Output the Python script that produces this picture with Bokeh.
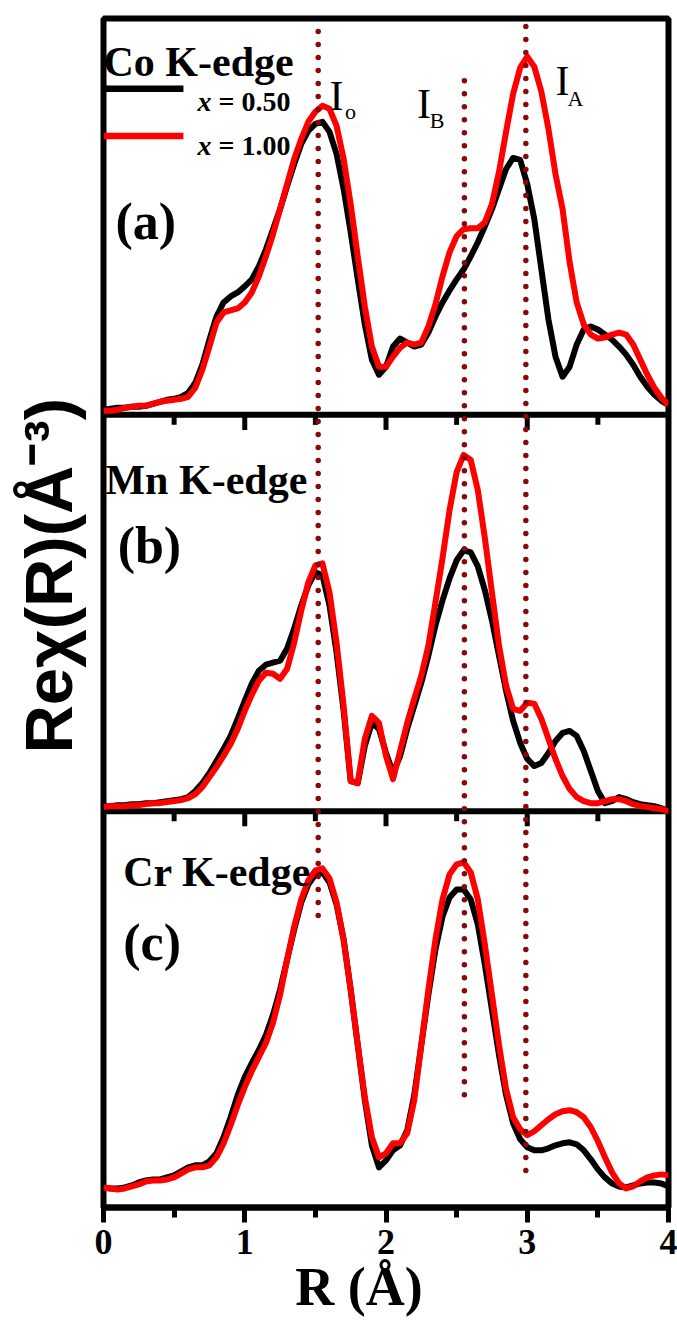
import numpy as np
from bokeh.plotting import figure
from bokeh.models import Range1d, SingleIntervalTicker, FixedTicker, Label
from bokeh.embed import file_html
from bokeh.resources import INLINE

# ---------------- data ----------------
R = np.round(np.arange(81) * 0.05, 2)          # R (Angstrom) sampling, 0..4

# Co K-edge (a)
co_050 = [5, 6, 7, 7, 8, 8, 9, 11, 13, 15,
          16, 18, 22, 32, 50, 75, 98, 112, 118, 122,
          128, 135, 148, 165, 185, 205, 228, 250, 270, 283,
          290, 292, 282, 260, 225, 182, 135, 90, 55, 40,
          48, 68, 76, 72, 68, 70, 82, 98, 112, 124,
          135, 145, 158, 172, 188, 205, 225, 245, 256, 254,
          230, 195, 145, 95, 58, 38, 48, 70, 85, 88,
          85, 80, 75, 68, 60, 50, 38, 28, 20, 14,
          10]
co_100 = [4, 4, 5, 7, 8, 9, 9, 11, 13, 14,
          15, 16, 18, 27, 45, 68, 92, 102, 104, 106,
          112, 122, 138, 158, 180, 205, 230, 255, 275, 292,
          302, 308, 305, 288, 255, 210, 158, 108, 68, 48,
          48, 58, 67, 72, 70, 72, 88, 110, 138, 162,
          178, 185, 186, 186, 192, 210, 242, 282, 320, 346,
          357, 347, 322, 285, 240, 205, 152, 112, 90, 80,
          76, 77, 80, 82, 80, 70, 55, 40, 27, 17,
          10]
# Mn K-edge (b)
mn_050 = [5, 5, 6, 6, 7, 7, 8, 8, 9, 10,
          11, 12, 14, 20, 28, 38, 50, 62, 75, 92,
          110, 127, 140, 146, 148, 150, 162, 182, 205, 225,
          238, 235, 205, 158, 100, 30, 28, 65, 88, 82,
          58, 38, 55, 82, 105, 128, 155, 185, 210, 232,
          250, 260, 258, 244, 220, 190, 155, 120, 90, 68,
          52, 45, 48, 58, 70, 78, 80, 75, 60, 40,
          20, 8, 10, 14, 12, 9, 7, 6, 5, 3,
          0]
mn_100 = [4, 5, 5, 5, 6, 6, 7, 8, 8, 9,
          10, 11, 13, 17, 24, 34, 44, 55, 67, 82,
          100, 116, 130, 138, 137, 132, 142, 168, 200, 228,
          245, 247, 218, 168, 105, 30, 28, 72, 95, 88,
          55, 32, 60, 88, 112, 135, 165, 208, 252, 300,
          338, 355, 350, 320, 272, 218, 165, 125, 102, 100,
          108, 107, 92, 72, 52, 35, 22, 14, 10, 8,
          8, 10, 12, 12, 10, 7, 5, 4, 3, 2,
          0]
# Cr K-edge (c)
cr_050 = [20, 19, 19, 20, 22, 25, 27, 28, 28, 30,
          32, 36, 40, 42, 42, 46, 54, 70, 90, 112,
          130, 144, 157, 172, 192, 217, 247, 277, 304, 322,
          332, 334, 324, 302, 267, 217, 162, 107, 62, 40,
          47, 57, 62, 77, 112, 162, 212, 257, 290, 309,
          317, 317, 307, 282, 242, 197, 152, 112, 84, 68,
          60, 57, 57, 59, 62, 64, 65, 63, 57, 48,
          38, 30, 24, 21, 20, 22, 24, 25, 25, 24,
          21]
cr_100 = [20, 19, 18, 19, 21, 23, 26, 27, 27, 28,
          30, 34, 38, 40, 40, 42, 50, 64, 82, 102,
          120, 136, 150, 164, 184, 212, 247, 280, 307, 326,
          336, 338, 328, 304, 267, 217, 162, 110, 70, 50,
          54, 64, 64, 74, 107, 162, 217, 267, 307, 332,
          342, 344, 334, 307, 262, 212, 162, 118, 90, 78,
          72, 76, 82, 88, 93, 96, 97, 95, 90, 80,
          66, 50, 35, 24, 19, 21, 26, 30, 32, 33,
          32]

panel_names = ["Co K-edge", "Mn K-edge", "Cr K-edge"]
panel_tags = ["(a)", "(b)", "(c)"]
series_labels = ["x", "x"]
series_values = ["= 0.50", "= 1.00"]

# peak markers I_o, I_B, I_A: position and extent (top in panel a units, bottom in panel c units)
peak_R = [1.52, 2.555, 2.99]
peak_top = [382, 333, 387]
peak_bottom = [290, 104, 34]
peak_names = ["o", "B", "A"]

x_ticks = [0, 1, 2, 3, 4]
x_minor = [0.5, 1.5, 2.5, 3.5]

# ---------------- figure ----------------
P = 395.0                      # height of one panel in data units
offsets = [2 * P, P, 0.0]
BLACK = "#000000"
RED = "#ff0000"
DOT = "#870a0a"
SERIF = "Liberation Serif"
SANS = "Liberation Sans"
LW = 6

p = figure(width=677, height=1336, output_backend="svg", toolbar_location=None,
           x_range=Range1d(0, 4), y_range=Range1d(0, 3 * P),
           min_border_left=103, min_border_right=9, min_border_top=18,
           min_border_bottom=129)
p.background_fill_color = "white"
p.border_fill_color = "white"
p.outline_line_color = "black"
p.outline_line_width = 6
p.xgrid.visible = False
p.ygrid.visible = False

# x axis
xa = p.xaxis[0]
xa.ticker = SingleIntervalTicker(interval=1, num_minor_ticks=2)
xa.axis_line_width = 6
xa.major_tick_line_width = 5
xa.minor_tick_line_width = 5
xa.major_tick_out = 15
xa.minor_tick_out = 10
xa.major_tick_in = 0
xa.minor_tick_in = 0
xa.major_label_standoff = 7
xa.major_label_text_font = SERIF
xa.major_label_text_font_style = "bold"
xa.major_label_text_font_size = "36px"
xa.major_label_text_color = "black"
xa.axis_label = "R (Å)" + "\u00a0" * 4
xa.axis_label_text_font = SERIF
xa.axis_label_text_font_style = "bold"
xa.axis_label_text_font_size = "54px"
xa.axis_label_standoff = 0
xa.axis_label_text_color = "black"

# y axis: only the title
ya = p.yaxis[0]
ya.ticker = FixedTicker(ticks=[])
ya.axis_line_color = None
ya.major_tick_line_color = None
ya.minor_tick_line_color = None
ya.major_tick_out = 0
ya.minor_tick_out = 0
ya.major_label_standoff = 0
ya.major_label_text_font_size = "0px"
ya.axis_label = "\u00a0" * 4 + "Reχ(R)(Å⁻³)"
ya.axis_label_text_font = SANS
ya.axis_label_text_font_style = "bold"
ya.axis_label_text_font_size = "67px"
ya.axis_label_standoff = 18
ya.axis_label_text_color = "black"

# panel separators with their ticks
for k in (1, 2):
    yb = k * P
    p.line(x=[0, 4], y=[yb, yb], line_color="black", line_width=6)
    p.segment(x0=x_ticks, y0=[yb] * len(x_ticks), x1=x_ticks,
              y1=[yb - 15] * len(x_ticks), line_color="black", line_width=5)
    p.segment(x0=x_minor, y0=[yb] * len(x_minor), x1=x_minor,
              y1=[yb - 10] * len(x_minor), line_color="black", line_width=5)

# curves
for off, b, r in zip(offsets, [co_050, mn_050, cr_050], [co_100, mn_100, cr_100]):
    p.line(R, np.array(b, float) + off, line_color=BLACK, line_width=LW, line_join="round")
    p.line(R, np.array(r, float) + off, line_color=RED, line_width=LW, line_join="round")

# dotted peak markers
for xr, t, bt in zip(peak_R, peak_top, peak_bottom):
    p.line([xr, xr], [t + 2 * P, bt], line_color=DOT, line_width=5.5,
           line_dash="0 13", line_cap="round")

# panel texts
name_pos = [(0.0, 2 * P + 352), (0.014, P + 330), (0.14, 334)]
tag_pos = [(0.085, 2 * P + 193), (0.10, P + 265), (0.14, 264)]
for name, (nx, ny) in zip(panel_names, name_pos):
    p.add_layout(Label(x=nx, y=ny, text=name, text_font=SERIF, text_font_style="bold",
                       text_font_size="42px", text_color="black", text_baseline="alphabetic"))
for tag, (tx, ty) in zip(panel_tags, tag_pos):
    p.add_layout(Label(x=tx, y=ty, text=tag, text_font=SERIF, text_font_style="bold",
                       text_font_size="52px", text_color="black", text_baseline="alphabetic"))

# legend
leg_y = [2 * P + 325, 2 * P + 278]
leg_txt_y = [2 * P + 312, 2 * P + 268]
for col, ly, ty, lab, val in zip([BLACK, RED], leg_y, leg_txt_y, series_labels, series_values):
    p.line([0, 0.566], [ly, ly], line_color=col, line_width=6.5)
    p.add_layout(Label(x=0.665, y=ty, text=lab, text_font=SERIF, text_font_style="bold italic",
                       text_font_size="28px", text_color="black", text_baseline="alphabetic"))
    p.add_layout(Label(x=0.665, y=ty, x_offset=21, text=val, text_font=SERIF,
                       text_font_style="bold", text_font_size="28px", text_color="black",
                       text_baseline="alphabetic"))

# I_o, I_B, I_A labels
I_pos = [(1.60, 2 * P + 318), (2.22, 2 * P + 310), (3.20, 2 * P + 333)]
sub_pos = [(1.71, 2 * P + 302), (2.31, 2 * P + 293), (3.285, 2 * P + 315)]
for (ix, iy), (sx, sy), s in zip(I_pos, sub_pos, peak_names):
    p.add_layout(Label(x=ix, y=iy, text="I", text_font=SERIF, text_font_size="42px",
                       text_color="black", text_baseline="alphabetic"))
    p.add_layout(Label(x=sx, y=sy, text=s, text_font=SERIF, text_font_size="22px",
                       text_color="black", text_baseline="alphabetic"))

open("out.html", "w").write(file_html(p, INLINE))
